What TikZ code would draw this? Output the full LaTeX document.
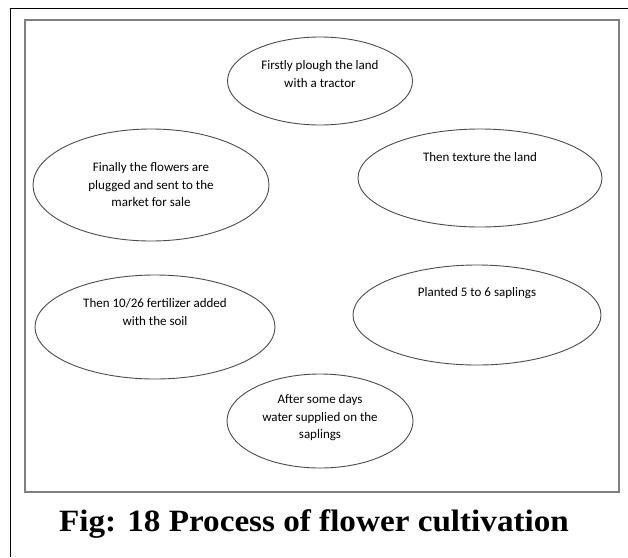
\documentclass[tikz,border=0pt]{standalone}
\usepackage{fontspec}
\usepackage{tikz}
\usetikzlibrary{shapes.geometric}
\newfontfamily\stagefont{Carlito}
\newfontfamily\captionfont{Liberation Serif}

\begin{document}
\begin{tikzpicture}[x=1pt, y=-1pt,
    stage/.style={draw=black!70, line width=0.9pt, ellipse, inner sep=0pt, outer sep=0pt},
    stagetext/.style={align=center, text=black, font=\stagefont\fontsize{13}{17.5}\selectfont}]
    \useasboundingbox[fill=white] (0,0) rectangle (628,557);
    \draw[thin,black] (10,557) |- (628,8);
    \draw[line width=1.6pt,black!50] (25,20) rectangle (619,492);
    % the six steps
    \node[stage, minimum width=185pt, minimum height=88pt] (plough) at (320,81) {};
    \node[stagetext] (ploughtext) at (320,74) {Firstly plough the land\\with a tractor};
    \node[stage, minimum width=244pt, minimum height=98pt] (texture) at (480,178) {};
    \node[stagetext] (texturetext) at (480,157) {Then texture the land};
    \node[stage, minimum width=248pt, minimum height=100pt] (saplings) at (477,315) {};
    \node[stagetext] (saplingstext) at (477,293) {Planted 5 to 6 saplings};
    \node[stage, minimum width=186pt, minimum height=94pt] (water) at (320,421) {};
    \node[stagetext] (watertext) at (320,418) {After some days\\water supplied on the\\saplings};
    \node[stage, minimum width=240pt, minimum height=104pt] (fertilizer) at (155,327) {};
    \node[stagetext] (fertilizertext) at (155,312) {Then 10/26 fertilizer added\\with the soil};
    \node[stage, minimum width=236pt, minimum height=112pt] (flowers) at (151,185) {};
    \node[stagetext] (flowerstext) at (151,185) {Finally the flowers are\\plugged and sent to the\\market for sale};
    % caption
    \node[anchor=base, xscale=1.07, font=\captionfont\bfseries\fontsize{31}{36}\selectfont] (caption)
      at (314,531) {Fig: 18 Process of flower cultivation};
\end{tikzpicture}
\end{document}
